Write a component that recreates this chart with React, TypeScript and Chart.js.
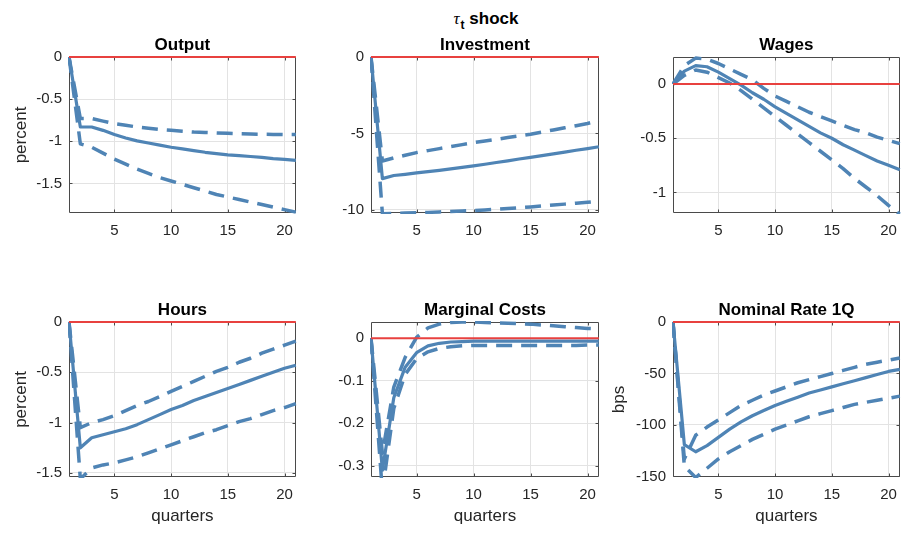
import React, { useEffect, useRef } from "react";
import { Chart, registerables } from "chart.js";

Chart.register(...registerables);

// ---------- data ----------
const quarters = [1, 2, 3, 4, 5, 6, 7, 8, 9, 10, 11, 12, 13, 14, 15, 16, 17, 18, 19, 20, 21];
const xTicks = [5, 10, 15, 20];

const outputMean = [0, -0.83, -0.83, -0.87, -0.92, -0.96, -0.995, -1.02, -1.045, -1.07, -1.09, -1.11, -1.13, -1.145, -1.16, -1.17, -1.18, -1.19, -1.205, -1.215, -1.225];
const outputUpper = [0, -0.73, -0.73, -0.76, -0.79, -0.81, -0.83, -0.845, -0.86, -0.87, -0.88, -0.89, -0.895, -0.9, -0.905, -0.91, -0.913, -0.916, -0.918, -0.92, -0.92];
const outputLower = [0, -1.03, -1.07, -1.14, -1.21, -1.27, -1.33, -1.38, -1.43, -1.47, -1.51, -1.55, -1.59, -1.63, -1.66, -1.69, -1.72, -1.75, -1.78, -1.81, -1.84];
const outputYTicks = [0, -0.5, -1, -1.5];

const investmentMean = [0, -7.95, -7.75, -7.67, -7.58, -7.5, -7.41, -7.32, -7.22, -7.12, -7.01, -6.9, -6.79, -6.67, -6.56, -6.45, -6.33, -6.22, -6.1, -5.99, -5.87];
const investmentUpper = [0, -6.8, -6.6, -6.42, -6.25, -6.12, -5.99, -5.86, -5.73, -5.6, -5.49, -5.38, -5.27, -5.16, -5.05, -4.91, -4.77, -4.63, -4.49, -4.35, -4.15];
const investmentLower = [0, -10.25, -10.22, -10.2, -10.18, -10.16, -10.13, -10.1, -10.07, -10.04, -10.0, -9.96, -9.91, -9.86, -9.8, -9.74, -9.68, -9.62, -9.56, -9.5, -9.43];
const investmentYTicks = [0, -5, -10];

const wagesMean = [0, 0.12, 0.17, 0.16, 0.11, 0.05, -0.01, -0.08, -0.14, -0.21, -0.27, -0.33, -0.39, -0.45, -0.5, -0.56, -0.61, -0.66, -0.71, -0.75, -0.79];
const wagesUpper = [0, 0.17, 0.24, 0.23, 0.19, 0.14, 0.09, 0.04, -0.04, -0.11, -0.16, -0.21, -0.26, -0.3, -0.34, -0.38, -0.42, -0.45, -0.49, -0.52, -0.55];
const wagesLower = [0, 0.08, 0.13, 0.11, 0.06, 0.01, -0.06, -0.14, -0.22, -0.3, -0.38, -0.46, -0.54, -0.62, -0.7, -0.78, -0.87, -0.95, -1.03, -1.12, -1.2];
const wagesYTicks = [0, -0.5, -1];

const hoursMean = [0, -1.25, -1.15, -1.12, -1.09, -1.06, -1.02, -0.97, -0.92, -0.87, -0.83, -0.78, -0.74, -0.7, -0.66, -0.62, -0.58, -0.54, -0.5, -0.46, -0.43];
const hoursUpper = [0, -1.05, -1.0, -0.97, -0.93, -0.88, -0.83, -0.79, -0.74, -0.69, -0.64, -0.59, -0.54, -0.49, -0.45, -0.4, -0.36, -0.31, -0.27, -0.23, -0.19];
const hoursLower = [0, -1.56, -1.45, -1.42, -1.4, -1.37, -1.34, -1.3, -1.26, -1.22, -1.18, -1.14, -1.1, -1.07, -1.03, -0.99, -0.96, -0.92, -0.88, -0.85, -0.81];
const hoursYTicks = [0, -0.5, -1, -1.5];

const mcMean = [0, -0.31, -0.14, -0.068, -0.034, -0.018, -0.012, -0.009, -0.008, -0.007, -0.007, -0.007, -0.007, -0.007, -0.007, -0.007, -0.007, -0.007, -0.007, -0.007, -0.007];
const mcUpper = [0, -0.27, -0.115, -0.045, 0.002, 0.024, 0.033, 0.037, 0.038, 0.038, 0.037, 0.036, 0.035, 0.034, 0.033, 0.031, 0.029, 0.027, 0.025, 0.023, 0.022];
const mcLower = [0, -0.36, -0.165, -0.085, -0.048, -0.032, -0.024, -0.02, -0.018, -0.017, -0.017, -0.017, -0.017, -0.017, -0.017, -0.017, -0.017, -0.017, -0.017, -0.016, -0.016];
const mcYTicks = [0, -0.1, -0.2, -0.3];

const rateMean = [0, -119, -126, -120, -112, -104, -97, -91, -86, -81, -77, -73, -69, -66, -63, -60, -57, -54, -51, -48, -46];
const rateUpper = [0, -133, -110, -102, -95, -88, -81, -76, -71, -67, -63, -59, -56, -53, -50, -47, -44, -41, -39, -37, -35];
const rateLower = [0, -140, -151, -142, -133, -126, -120, -114, -109, -104, -100, -96, -92, -89, -86, -83, -80, -78, -76, -74, -72];
const rateYTicks = [0, -50, -100, -150];

// ---------- styling ----------
const FONT = '"Liberation Sans", Arial, Helvetica, sans-serif';
const BLUE = "#4f84b5";
const RED = "#e8413f";
const GRID = "#e3e3e3";
const AXIS = "#4a4a4a";
const TEXT = "#262626";
const TH = 30; // title band height
const RP = 3; // right padding

type Spec = {
  title: string;
  mean: number[];
  upper: number[];
  lower: number[];
  yTicks: number[];
  yMin: number;
  yMax: number;
  yLabel?: string;
  xLabel?: string;
  left: number;
  top: number;
  w: number;
  h: number;
  yW: number;
  xH: number;
};

const panels: Spec[] = [
  { title: "Output", mean: outputMean, upper: outputUpper, lower: outputLower, yTicks: outputYTicks, yMin: -1.85, yMax: 0, yLabel: "percent", left: 69, top: 57, w: 230, h: 156, yW: 58, xH: 28 },
  { title: "Investment", mean: investmentMean, upper: investmentUpper, lower: investmentLower, yTicks: investmentYTicks, yMin: -10.2, yMax: 0, left: 371, top: 57, w: 231, h: 156, yW: 60, xH: 28 },
  { title: "Wages", mean: wagesMean, upper: wagesUpper, lower: wagesLower, yTicks: wagesYTicks, yMin: -1.19, yMax: 0.25, left: 673, top: 57, w: 230, h: 156, yW: 60, xH: 28 },
  { title: "Hours", mean: hoursMean, upper: hoursUpper, lower: hoursLower, yTicks: hoursYTicks, yMin: -1.54, yMax: 0, yLabel: "percent", xLabel: "quarters", left: 69, top: 322, w: 230, h: 155, yW: 58, xH: 50 },
  { title: "Marginal Costs", mean: mcMean, upper: mcUpper, lower: mcLower, yTicks: mcYTicks, yMin: -0.326, yMax: 0.038, xLabel: "quarters", left: 371, top: 322, w: 231, h: 155, yW: 60, xH: 50 },
  { title: "Nominal Rate 1Q", mean: rateMean, upper: rateUpper, lower: rateLower, yTicks: rateYTicks, yMin: -150.5, yMax: 0, yLabel: "bps", xLabel: "quarters", left: 673, top: 322, w: 230, h: 155, yW: 64, xH: 50 },
];

const framePlugin = {
  id: "matlabFrame",
  beforeDatasetsDraw(chart: any) {
    const { ctx, chartArea: a, scales } = chart;
    const xs = scales.x;
    const ys = scales.y;
    ctx.save();
    ctx.strokeStyle = AXIS;
    ctx.lineWidth = 1;
    const l = Math.round(a.left) + 0.5;
    const r = Math.round(a.right) - 0.5;
    const t = Math.round(a.top) + 0.5;
    const b = Math.round(a.bottom) - 0.5;
    ctx.beginPath();
    ctx.rect(l, t, r - l, b - t);
    const tl = 3;
    for (const tk of xs.ticks) {
      const px = Math.round(xs.getPixelForValue(tk.value)) + 0.5;
      ctx.moveTo(px, b);
      ctx.lineTo(px, b - tl);
      ctx.moveTo(px, t);
      ctx.lineTo(px, t + tl);
    }
    for (const tk of ys.ticks) {
      const py = Math.round(ys.getPixelForValue(tk.value)) + 0.5;
      ctx.moveTo(l, py);
      ctx.lineTo(l + tl, py);
      ctx.moveTo(r, py);
      ctx.lineTo(r - tl, py);
    }
    ctx.stroke();
    ctx.restore();
  },
  afterDraw(chart: any, _args: any, opts: any) {
    const { ctx, chartArea: a } = chart;
    ctx.save();
    ctx.fillStyle = "#000";
    ctx.font = `bold 17px ${FONT}`;
    ctx.textAlign = "center";
    ctx.textBaseline = "middle";
    ctx.fillText(opts.text, (a.left + a.right) / 2, a.top - 11.5);
    ctx.restore();
  },
};

function Panel({ spec }: { spec: Spec }) {
  const ref = useRef<HTMLCanvasElement | null>(null);
  const cw = spec.yW + spec.w + RP;
  const ch = TH + spec.h + spec.xH;
  useEffect(() => {
    if (!ref.current) return;
    const toPts = (arr: number[]) => arr.map((v, i) => ({ x: quarters[i], y: v }));
    const chart = new Chart(ref.current, {
      type: "line",
      data: {
        datasets: [
          {
            data: [
              { x: quarters[0], y: 0 },
              { x: quarters[quarters.length - 1], y: 0 },
            ],
            borderColor: RED,
            borderWidth: 2,
            pointRadius: 0,
            order: 0,
            clip: 3,
          },
          { data: toPts(spec.mean), borderColor: BLUE, borderWidth: 3.2, pointRadius: 0, order: 1, clip: 1 },
          { data: toPts(spec.upper), borderColor: BLUE, borderWidth: 3.5, borderDash: [16, 9], pointRadius: 0, order: 2, clip: 1 },
          { data: toPts(spec.lower), borderColor: BLUE, borderWidth: 3.5, borderDash: [16, 9], pointRadius: 0, order: 2, clip: 1 },
        ],
      },
      options: {
        animation: false,
        responsive: false,
        maintainAspectRatio: false,
        events: [],
        layout: { padding: { left: 0, right: RP, top: TH, bottom: 0 } },
        elements: { line: { tension: 0, borderCapStyle: "butt", borderJoinStyle: "round" } },
        plugins: {
          legend: { display: false },
          tooltip: { enabled: false },
          title: { display: false },
          matlabFrame: { text: spec.title },
        },
        scales: {
          x: {
            type: "linear",
            min: quarters[0],
            max: quarters[quarters.length - 1],
            afterBuildTicks: (s: any) => {
              s.ticks = xTicks.map((v) => ({ value: v }));
            },
            afterFit: (s: any) => {
              s.height = spec.xH;
            },
            grid: { color: GRID, lineWidth: 1, drawTicks: false },
            border: { display: false },
            ticks: {
              font: { family: FONT, size: 15, lineHeight: 1.2 },
              color: TEXT,
              padding: 9,
              maxRotation: 0,
              autoSkip: false,
              callback: (v: any) => String(v),
            },
            title: {
              display: !!spec.xLabel,
              text: spec.xLabel || "",
              color: TEXT,
              font: { family: FONT, size: 17, lineHeight: 1.2 },
              padding: 0,
            },
          },
          y: {
            type: "linear",
            min: spec.yMin,
            max: spec.yMax,
            afterBuildTicks: (s: any) => {
              s.ticks = spec.yTicks.map((v) => ({ value: v }));
            },
            afterFit: (s: any) => {
              s.width = spec.yW;
            },
            grid: { color: GRID, lineWidth: 1, drawTicks: false },
            border: { display: false },
            ticks: {
              font: { family: FONT, size: 15, lineHeight: 1.2 },
              color: TEXT,
              padding: 7,
              autoSkip: false,
              callback: (v: any) => String(v),
            },
            title: {
              display: !!spec.yLabel,
              text: spec.yLabel || "",
              color: TEXT,
              font: { family: FONT, size: 17, lineHeight: 1.2 },
              padding: 0,
            },
          },
        },
      },
      plugins: [framePlugin],
    } as any);
    return () => chart.destroy();
  }, [spec]);
  return (
    <canvas
      ref={ref}
      width={cw}
      height={ch}
      style={{
        position: "absolute",
        left: spec.left - spec.yW,
        top: spec.top - TH,
        width: cw,
        height: ch,
      }}
    />
  );
}

export default function App() {
  return (
    <div
      style={{
        position: "absolute",
        left: 0,
        top: 0,
        width: 904,
        height: 533,
        overflow: "hidden",
        background: "#fff",
      }}
    >
      <div
        style={{
          position: "absolute",
          left: 386,
          top: 9,
          width: 200,
          textAlign: "center",
          fontFamily: FONT,
          fontWeight: "bold",
          fontSize: 17,
          lineHeight: "20px",
          color: "#000",
          whiteSpace: "nowrap",
        }}
      >
        <span style={{ fontFamily: '"Liberation Serif", "DejaVu Serif", serif', fontStyle: "italic", fontWeight: "normal" }}>τ</span>
        <span style={{ fontSize: 12, position: "relative", top: 5, marginLeft: 1 }}>t</span> shock
      </div>
      {panels.map((p) => (
        <Panel key={p.title} spec={p} />
      ))}
    </div>
  );
}
